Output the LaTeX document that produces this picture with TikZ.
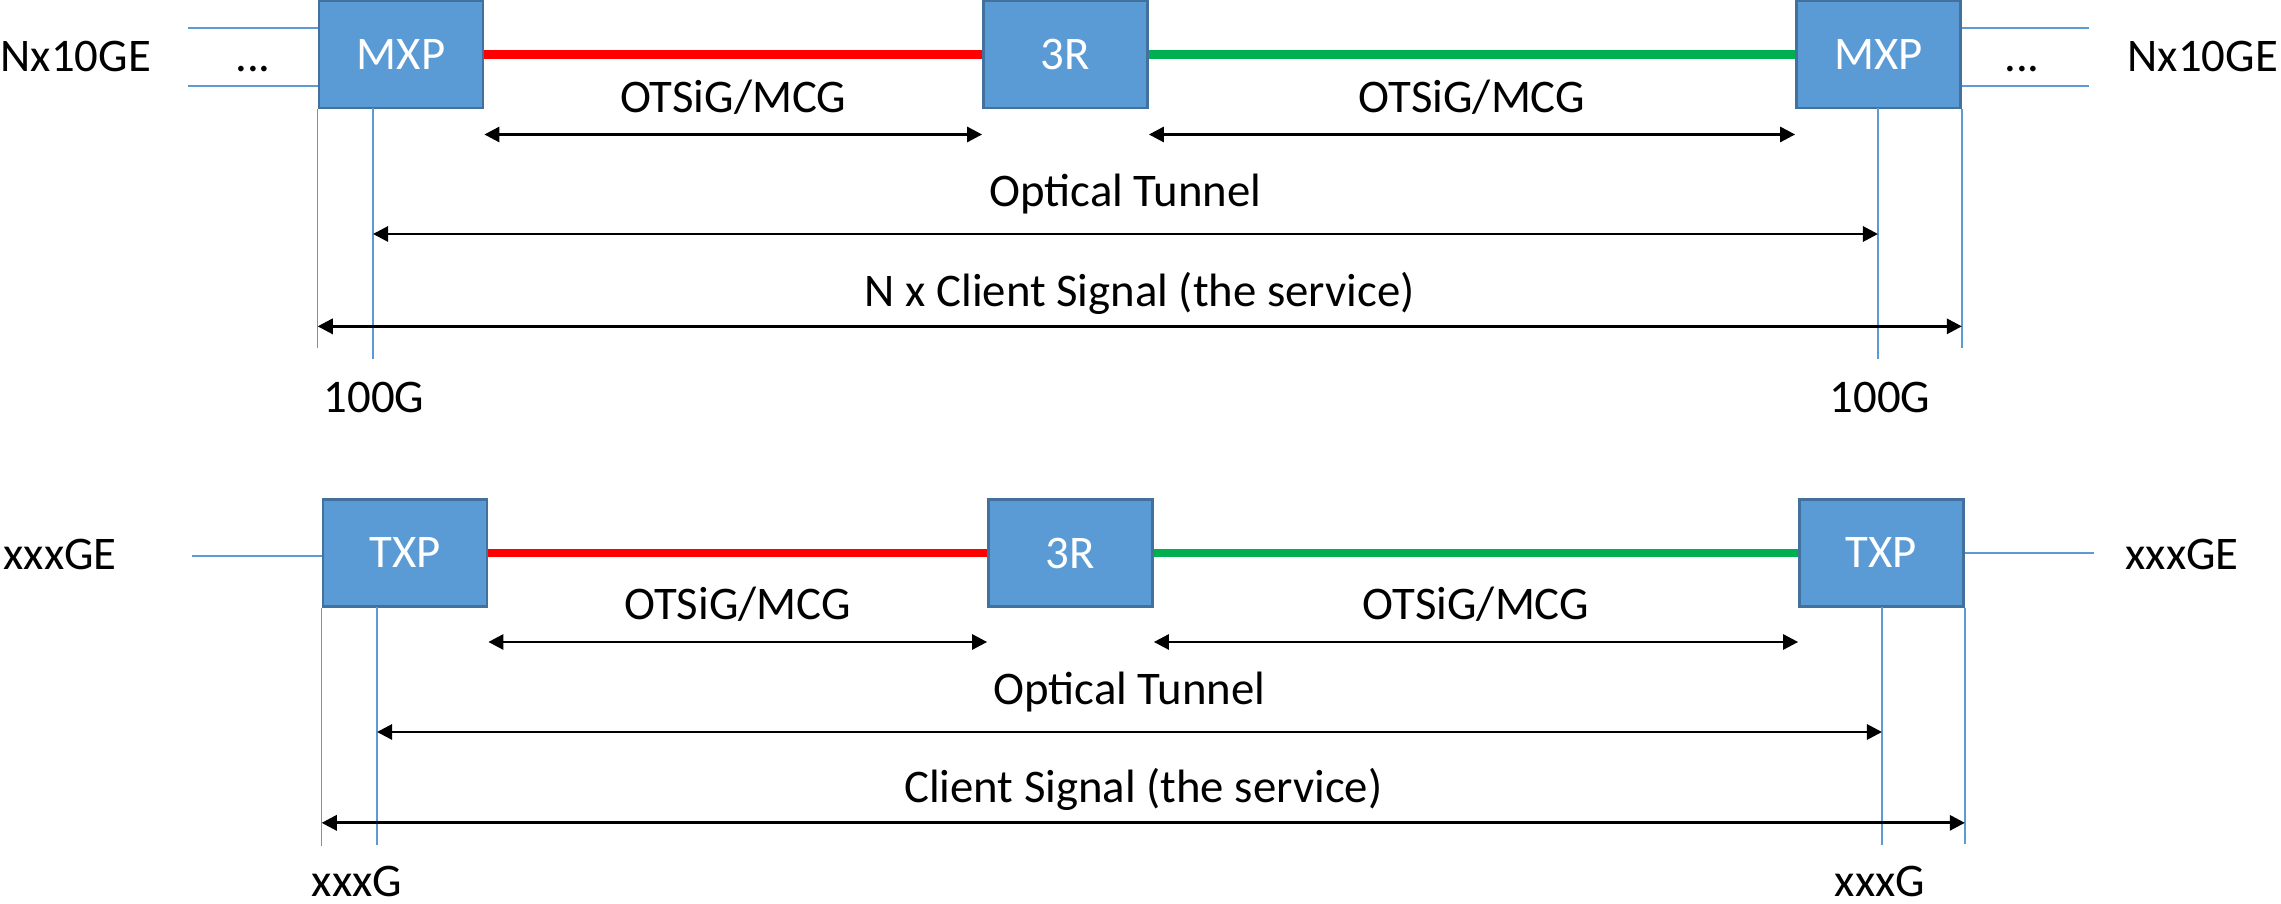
\documentclass[tikz,border=0pt]{standalone}
\usepackage{fontspec}
\setmainfont{Carlito}
\usetikzlibrary{arrows.meta,positioning,calc}
\definecolor{boxblue}{RGB}{91,155,213}
\definecolor{boxedge}{RGB}{65,113,156}
\definecolor{feedblue}{RGB}{91,155,213}
\definecolor{hopred}{RGB}{255,0,0}
\definecolor{hopgreen}{RGB}{0,176,80}
\newcommand{\labelfont}{\fontsize{13.3}{16}\selectfont}
\tikzset{
    % Define standard node styles
    nebox/.style={
        rectangle, draw=boxedge, line width=0.75pt, fill=boxblue,
        text=white, minimum width=1.64cm, minimum height=1.07cm,
        inner sep=0pt, font=\labelfont
    },
    feed/.style={
        draw=feedblue, line width=0.35pt
    },
    redhop/.style={
        draw=hopred, line width=2.3pt
    },
    greenhop/.style={
        draw=hopgreen, line width=2.3pt
    },
    span/.style={
        <->, >={Triangle[length=4.3pt,width=4.3pt]}, line width=0.8pt
    },
    tag/.style={
        font=\labelfont, inner sep=0pt, anchor=base
    }
}

\begin{document}
\begin{tikzpicture}[x=0.01cm, y=-0.01cm]
\useasboundingbox (0,0) rectangle (2281,904);

% MXP case
\node[nebox] (mxpA) at (401,54.5) {MXP};
\node[nebox] (regenA) at (1065.5,54.5) {3R};
\node[nebox] (mxpB) at (1878.5,54.5) {MXP};
\draw[redhop] (mxpA) -- (regenA);
\draw[greenhop] (regenA) -- (mxpB);

\coordinate (feedA1) at (188,28);
\coordinate (feedA2) at (188,86);
\coordinate (feedB1) at (2089,28);
\coordinate (feedB2) at (2089,86);
\draw[feed] (feedA1) -- (feedA1 -| mxpA.west);
\draw[feed] (feedA2) -- (feedA2 -| mxpA.west);
\draw[feed] (feedB1 -| mxpB.east) -- (feedB1);
\draw[feed] (feedB2 -| mxpB.east) -- (feedB2);

\node[tag, anchor=base west] (clientA) at (0,72) {Nx10GE};
\node[tag] (dotsA) at (253,72) {...};
\node[tag] (dotsB) at (2022,72) {...};
\node[tag, anchor=base west] (clientB) at (2127,72) {Nx10GE};

\coordinate (otA) at (373,108);
\coordinate (otB) at (1878,108);
\draw[feed] (mxpA.south west) -- ++(0,239);
\draw[feed] (otA) -- ++(0,251);
\draw[feed] (otB) -- ++(0,251);
\draw[feed] (mxpB.south east) -- ++(0,239);

\draw[span] ($(mxpA.east)+(0,80)$) -- node[tag, yshift=0.22cm] (otsiA) {OTSiG/MCG} ($(regenA.west)+(0,80)$);
\draw[span] ($(regenA.east)+(0,80)$) -- node[tag, yshift=0.22cm] (otsiB) {OTSiG/MCG} ($(mxpB.west)+(0,80)$);
\draw[span] ($(otA)+(0,126)$) -- node[tag, yshift=0.27cm] (tunnelA) {Optical Tunnel} ($(otB)+(0,126)$);
\draw[span] ($(mxpA.south west)+(0,217)$) -- node[tag, yshift=0.2cm] (serviceA) {N x Client Signal (the service)} ($(mxpB.south east)+(0,217)$);

\node[tag] (rateA) at (374,413) {100G};
\node[tag] (rateB) at (1880,413) {100G};

% TXP case
\node[nebox] (txpA) at (405,553) {TXP};
\node[nebox] (regenB) at (1070.5,553) {3R};
\node[nebox] (txpB) at (1881.5,553) {TXP};
\draw[redhop] (txpA) -- (regenB);
\draw[greenhop] (regenB) -- (txpB);

\coordinate (feedC) at (192,556);
\coordinate (feedD) at (2094,553);
\draw[feed] (feedC) -- (feedC -| txpA.west);
\draw[feed] (feedD -| txpB.east) -- (feedD);

\node[tag, anchor=base west] (clientC) at (3,570) {xxxGE};
\node[tag, anchor=base west] (clientD) at (2125,570) {xxxGE};

\coordinate (otC) at (377,607);
\coordinate (otD) at (1882,607);
\draw[feed] (txpA.south west) -- ++(0,238);
\draw[feed] (otC) -- ++(0,238);
\draw[feed] (otD) -- ++(0,238);
\draw[feed] (txpB.south east) -- ++(0,236);

\draw[span] ($(txpA.east)+(0,89)$) -- node[tag, yshift=0.22cm] (otsiC) {OTSiG/MCG} ($(regenB.west)+(0,89)$);
\draw[span] ($(regenB.east)+(0,89)$) -- node[tag, yshift=0.22cm] (otsiD) {OTSiG/MCG} ($(txpB.west)+(0,89)$);
\draw[span] ($(otC)+(0,125)$) -- node[tag, yshift=0.27cm] (tunnelB) {Optical Tunnel} ($(otD)+(0,125)$);
\draw[span] ($(txpA.south west)+(0,215)$) -- node[tag, yshift=0.2cm] (serviceB) {Client Signal (the service)} ($(txpB.south east)+(0,215)$);

\node[tag] (rateC) at (357,897) {xxxG};
\node[tag] (rateD) at (1880,897) {xxxG};

\end{tikzpicture}
\end{document}
